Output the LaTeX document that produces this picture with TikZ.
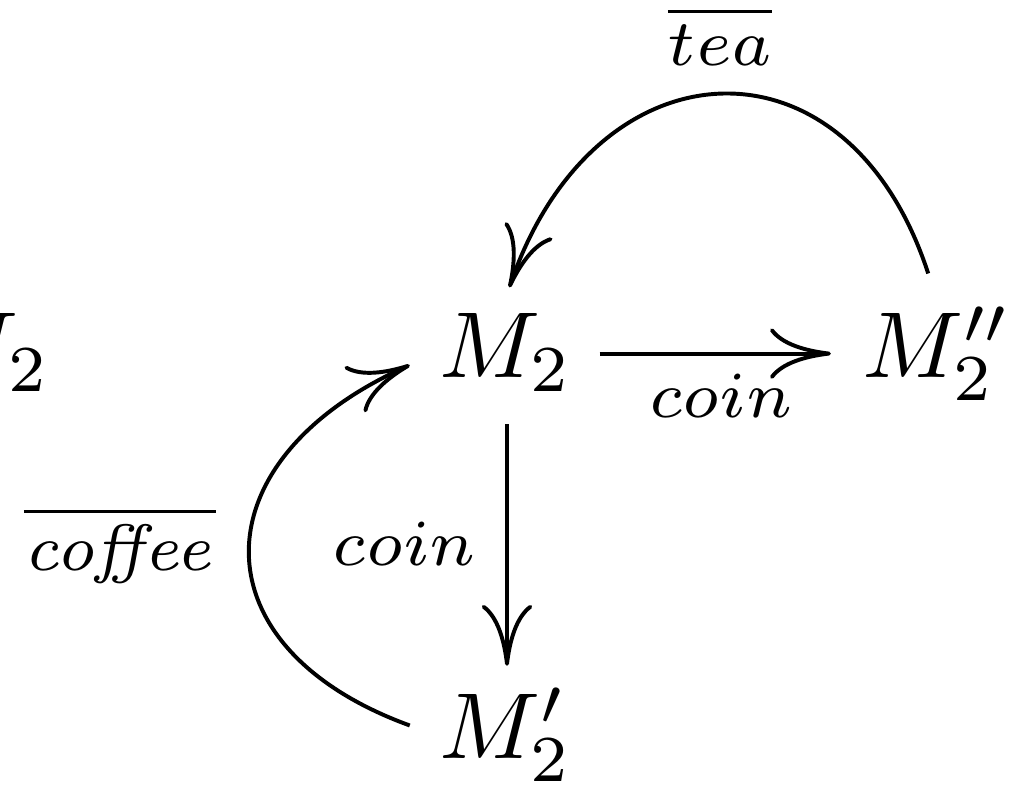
\documentclass[tikz,border=0pt]{standalone}
\usetikzlibrary{cd,arrows.meta}
\begin{document}
\begin{tikzpicture}[x=0.10672pt,y=-0.10672pt,
  state/.style={anchor=base west,inner sep=3.3333pt},
  lbl/.style={anchor=base,inner sep=0pt},
  arr/.style={-{Computer Modern Rightarrow[length=6.5pt,width=5.4pt]},line width=0.42pt}]
\useasboundingbox (0,0) rectangle (1027,784);
\clip (0,0) rectangle (1027,784);
% nodes
\node[state] (m2left) at (-116,377) {$M_2$};
\node[state] (m2) at (406,377) {$M_2$};
\node[state] (m2pp) at (829,377) {$M_2''$};
\node[state] (m2p) at (406,758) {$M_2'$};
% labels
\node[lbl] (ltea) at (720,65) {$\scriptstyle\overline{tea}$};
\node[lbl] (lcoinh) at (721,417) {$\scriptstyle coin$};
\node[lbl] (lcoinv) at (404.5,565) {$\scriptstyle coin$};
\node[lbl] (lcoffee) at (120,570) {$\scriptstyle\overline{\mathit{coffee}}$};
% connectors
\draw[arr] ([xshift=-0.6pt,yshift=0.35pt]m2.mid east) -- ([xshift=0.2pt,yshift=0.35pt]m2pp.mid west);
\draw[arr,shorten >=-1.2pt] ([xshift=0.15pt]m2.south) -- ([xshift=0.15pt]m2p.north);
\draw[arr] ([xshift=-0.9pt]m2pp.north) .. controls +(-81,-249) and +(85,-248) .. ([xshift=0.4pt,yshift=-0.8pt]m2.north);
\draw[arr] ([xshift=0.4pt,yshift=0.96pt]m2p.west) .. controls +(-217,-79) and +(-211,94) .. ([xshift=0.4pt,yshift=-1.39pt]m2.west);
\end{tikzpicture}
\end{document}
